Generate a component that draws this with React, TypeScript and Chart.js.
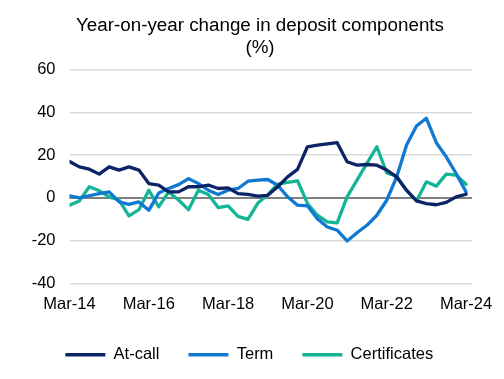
import React, { useEffect, useRef } from "react";
import { Chart, registerables } from "chart.js";

Chart.register(...registerables);

const titleLines = ["Year-on-year change in deposit components", "(%)"];

// Quarterly categories Mar-14 .. Mar-24
const categories: string[] = [];
for (let y = 14; y <= 24; y++) {
  for (const m of ["Mar", "Jun", "Sep", "Dec"]) {
    if (y === 24 && m !== "Mar") continue;
    categories.push(`${m}-${y}`);
  }
}

const tickLabels = ["Mar-14", "Mar-16", "Mar-18", "Mar-20", "Mar-22", "Mar-24"];

const atCall = [17, 14.5, 13.4, 11.1, 14.5, 13, 14.5, 13, 6.7, 6, 2.8, 2.8, 5.2, 5.2, 6, 4.4, 4.7, 2, 1.6, 0.8, 1.2, 5.2, 9.8, 13.3, 23.9, 24.7, 25.2, 25.8, 16.9, 15.3, 15.6, 15.3, 13, 9.8, 3.6, -1.4, -2.7, -3.2, -2.1, 0.5, 1.7];
const term = [1, 0, 1, 2, 2.8, -1.9, -3, -1.9, -5.8, 2.3, 4.4, 6.2, 9, 6.7, 3.6, 1.6, 3.6, 4.4, 7.8, 8.3, 8.6, 5.9, 0.5, -3.4, -3.7, -9.7, -13.6, -15.1, -20.1, -16.3, -12.8, -8.1, -1.1, 9.8, 24.7, 33.6, 37.2, 25.8, 19.2, 11.4, 2.8];
const certificates = [-3.4, -1.4, 5.2, 3.3, 0.5, -1, -8.4, -5.5, 3.6, -4.2, 2.8, -1, -5.5, 3.6, 1.6, -4.5, -3.7, -8.6, -10, -2.4, 1.5, 6.4, 7.2, 8, -2.6, -8.1, -11.2, -11.7, 0.5, 8.3, 16.1, 23.9, 11.7, 10.2, 3.4, -1.4, 7.5, 5.5, 11.1, 10.6, 6.4];

const seriesNames = ["At-call", "Term", "Certificates"];
const seriesColors = ["#0c2466", "#0f78d2", "#14b596"];

const FONT = '"Liberation Sans", Arial, sans-serif';

const titlePlugin = {
  id: "customTitle",
  afterDraw(chart: any) {
    const ctx = chart.ctx;
    ctx.save();
    ctx.font = `18.8px ${FONT}`;
    ctx.fillStyle = "#000";
    ctx.textAlign = "center";
    ctx.textBaseline = "alphabetic";
    ctx.fillText(titleLines[0], 260, 31);
    ctx.fillText(titleLines[1], 260, 53);
    ctx.restore();
  },
};

const zeroLinePlugin = {
  id: "zeroLine",
  beforeDatasetsDraw(chart: any) {
    const { ctx, chartArea, scales } = chart;
    const y = Math.round(scales.y.getPixelForValue(0));
    ctx.save();
    ctx.strokeStyle = "#808080";
    ctx.lineWidth = 2;
    ctx.beginPath();
    ctx.moveTo(chartArea.left, y);
    ctx.lineTo(chartArea.right, y);
    ctx.stroke();
    ctx.restore();
  },
};

export default function App() {
  const ref = useRef<HTMLCanvasElement>(null);
  useEffect(() => {
    if (!ref.current) return;
    const all = [atCall, term, certificates];
    const chart = new Chart(ref.current, {
      type: "line",
      data: {
        datasets: all.map((arr, k) => ({
          label: seriesNames[k],
          data: arr.map((v, i) => ({ x: i, y: v })),
          borderColor: seriesColors[k],
          backgroundColor: seriesColors[k],
          borderWidth: 3.3,
          pointRadius: 0,
          tension: 0,
          borderJoinStyle: "round" as const,
          borderCapStyle: "round" as const,
        })),
      },
      options: {
        responsive: false,
        animation: false,
        layout: { padding: { top: 69.5, left: 26.5, right: 32, bottom: 6 } },
        plugins: {
          tooltip: { enabled: false },
          title: { display: false },
          legend: {
            position: "bottom",
            labels: {
              usePointStyle: true,
              pointStyle: "line",
              pointStyleWidth: 40,
              boxHeight: 4,
              padding: 29,
              color: "#000",
              font: { size: 16.5, family: FONT },
            },
          },
        },
        scales: {
          x: {
            type: "linear",
            min: 0,
            max: 40.6,
            afterBuildTicks: (scale: any) => {
              scale.ticks = tickLabels.map((t) => ({ value: categories.indexOf(t) }));
            },
            afterFit: (scale: any) => {
              scale.height = 34;
            },
            grid: { display: false, drawTicks: false },
            border: { display: false },
            ticks: {
              autoSkip: false,
              maxRotation: 0,
              padding: 11,
              color: "#000",
              font: { size: 16.5, family: FONT },
              callback: (v: any) => categories[v as number] ?? "",
            },
          },
          y: {
            min: -40,
            max: 60,
            afterFit: (scale: any) => {
              scale.width = 43;
            },
            grid: {
              drawTicks: false,
              color: "#d9d9d9",
              lineWidth: 1.5,
            },
            border: { display: false },
            ticks: {
              stepSize: 20,
              padding: 14,
              color: "#000",
              font: { size: 16.5, family: FONT },
            },
          },
        },
      },
      plugins: [titlePlugin, zeroLinePlugin],
    });
    return () => chart.destroy();
  }, []);
  return (
    <div style={{ position: "fixed", left: 0, top: 0, width: 504, height: 379, background: "#fff" }}>
      <canvas ref={ref} width={504} height={379} style={{ display: "block" }} />
    </div>
  );
}
